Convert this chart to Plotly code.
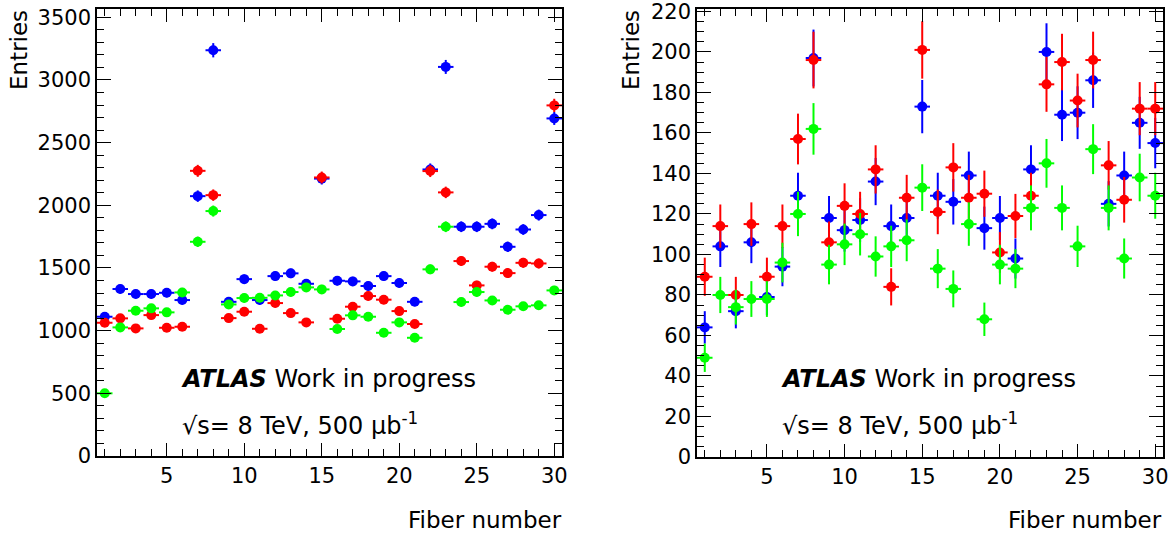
import numpy as np
import plotly.graph_objects as go

W, H = 1173, 536

fibers = list(range(1, 31))

# Left panel (large counts)
left_blue = [1111, 1332, 1292, 1292, 1302, 1244, 2073, 3237, 1230, 1411, 1244, 1435, 1457, 1374, 2213,
             1398, 1393, 1356, 1435, 1380, 1230, 2286, 3104, 1829, 1829, 1852, 1669, 1807, 1922, 2693]
left_red = [1063, 1098, 1018, 1124, 1023, 1031, 2275, 2081, 1100, 1151, 1015, 1220, 1140, 1066, 2222,
            1095, 1191, 1276, 1247, 1156, 1053, 2273, 2103, 1555, 1361, 1510, 1459, 1541, 1536, 2797]
left_green = [500, 1026, 1159, 1178, 1146, 1305, 1709, 1954, 1209, 1260, 1262, 1281, 1308, 1345, 1329,
              1013, 1122, 1111, 983, 1066, 943, 1489, 1829, 1228, 1308, 1241, 1167, 1194, 1202, 1321]

# Right panel (small counts)
right_blue = [64, 104, 72, 106, 79, 94, 129, 197, 118, 112, 117, 136, 114, 118, 173,
              129, 126, 139, 113, 118, 98, 142, 200, 169, 170, 186, 125, 139, 165, 155]
right_red = [89, 114, 80, 115, 89, 114, 157, 196, 106, 124, 120, 142, 84, 128, 201,
             121, 143, 128, 130, 101, 119, 129, 184, 195, 176, 196, 144, 127, 172, 172]
right_green = [49, 80, 74, 78, 78, 96, 120, 162, 95, 105, 110, 99, 104, 107, 133,
               93, 83, 115, 68, 95, 93, 123, 145, 123, 104, 152, 123, 98, 138, 129]

colors = {"blue": "#0000ff", "red": "#ff0000", "green": "#00ff00"}
FONT = "DejaVu Sans, Liberation Sans, sans-serif"


def px_x(x):
    return x / W


def px_y(y):
    return 1 - y / H


fig = go.Figure()


def add_series(vals, color, xa, ya):
    vals = np.array(vals, dtype=float)
    fig.add_trace(go.Scatter(
        x=fibers, y=vals, mode="markers", xaxis=xa, yaxis=ya,
        marker=dict(color=color, size=10, symbol="circle", line=dict(width=0)),
        error_x=dict(type="constant", value=0.5, color=color, thickness=2, width=0),
        error_y=dict(type="data", array=np.sqrt(vals), color=color, thickness=2, width=0),
        showlegend=False, hoverinfo="x+y",
    ))


for vals, c in [(left_blue, "blue"), (left_red, "red"), (left_green, "green")]:
    add_series(vals, colors[c], "x", "y")
for vals, c in [(right_blue, "blue"), (right_red, "red"), (right_green, "green")]:
    add_series(vals, colors[c], "x2", "y2")

axis_common = dict(
    showline=True, linecolor="black", linewidth=1.5, mirror="allticks",
    ticks="inside", tickcolor="black", tickwidth=1.2,
    showgrid=False, zeroline=False, automargin=False,
    ticklabeloverflow="allow",
    tickfont=dict(family=FONT, size=21, color="black"),
)

xcommon = dict(axis_common, range=[0.5, 30.5], tick0=0, dtick=5, ticklen=13,
               minor=dict(dtick=1, tick0=0, ticklen=7, ticks="inside", tickcolor="black", tickwidth=1.2))

fig.update_layout(
    width=W, height=H,
    margin=dict(l=0, r=0, t=0, b=0, autoexpand=False),
    paper_bgcolor="white", plot_bgcolor="white",
    showlegend=False,
    xaxis=dict(xcommon, domain=[px_x(97), px_x(562)], anchor="y"),
    yaxis=dict(axis_common, domain=[px_y(456), px_y(9)], anchor="x",
               range=[0, 3566], tick0=0, dtick=500, ticklen=14,
               minor=dict(dtick=100, tick0=0, ticklen=7, ticks="inside", tickcolor="black", tickwidth=1.2)),
    xaxis2=dict(xcommon, domain=[px_x(697), px_x(1163)], anchor="y2"),
    yaxis2=dict(axis_common, domain=[px_y(457), px_y(9)], anchor="x2",
                range=[0, 221.2], tick0=0, dtick=20, ticklen=14,
                minor=dict(dtick=5, tick0=0, ticklen=7, ticks="inside", tickcolor="black", tickwidth=1.2)),
)

annots = []
for off, ytitle_x in [(0, 19), (600, 631)]:
    annots.append(dict(text="Entries", textangle=-90, x=px_x(ytitle_x), y=px_y(8),
                       xref="paper", yref="paper", xanchor="center", yanchor="top",
                       showarrow=False, font=dict(family=FONT, size=23, color="black")))
    annots.append(dict(text="Fiber number", x=px_x(564 + off), y=px_y(520),
                       xref="paper", yref="paper", xanchor="right", yanchor="middle",
                       showarrow=False, font=dict(family=FONT, size=23, color="black")))
    annots.append(dict(text="<b><i>ATLAS</i></b> Work in progress", x=px_x(179 + off), y=px_y(379),
                       xref="paper", yref="paper", xanchor="left", yanchor="middle",
                       showarrow=False, font=dict(family=FONT, size=24, color="black")))
    annots.append(dict(text="√s= 8 TeV, 500 μb<sup>-1</sup>", x=px_x(180 + off), y=px_y(424),
                       xref="paper", yref="paper", xanchor="left", yanchor="middle",
                       showarrow=False, font=dict(family=FONT, size=24, color="black")))

fig.update_layout(annotations=annots)

fig.write_html("out.html")
